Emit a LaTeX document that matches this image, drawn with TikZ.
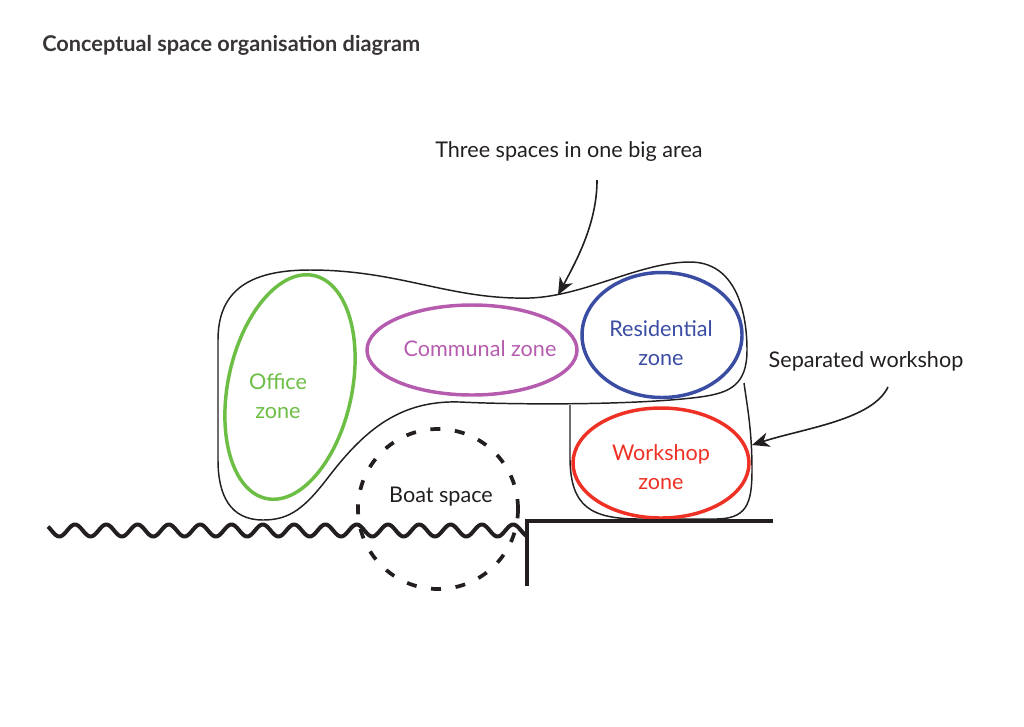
\documentclass[tikz,border=0pt]{standalone}
\usepackage{fontspec}
\setmainfont{Lato}
\usetikzlibrary{shapes.geometric,arrows.meta}
\definecolor{ink}{HTML}{231F20}
\definecolor{officeg}{HTML}{6CBE45}
\definecolor{communalm}{HTML}{B65CAF}
\definecolor{residb}{HTML}{3B4DA3}
\definecolor{workr}{HTML}{EE3124}
\begin{document}
\begin{tikzpicture}[x=0.75pt,y=-0.75pt,
  zone/.style={ellipse, draw, line width=2.6pt, inner sep=0pt},
  lbl/.style={font=\fontsize{16.2}{21.5}\selectfont, text=ink, inner sep=0pt, align=center},
  outline/.style={draw=ink, line width=1.1pt},
  callout/.style={draw=ink, line width=1.2pt, -{Stealth[length=13pt,width=11pt,inset=4pt]}},
  thick ink/.style={draw=ink, line width=3pt}
]
\useasboundingbox (0,0) rectangle (1024,726);

% title
\node[anchor=west, inner sep=0pt, font=\fontsize{16.3}{19}\selectfont\bfseries, text=ink!90] (title) at (42,45) {Conceptual space organisation diagram};

% big area outline
\draw[outline] (310,270) .. controls (400,270) and (450,300) .. (530,298)
  .. controls (585,296) and (640,262) .. (690,262)
  .. controls (735,262) and (747,310) .. (747,350)
  .. controls (747,385) and (730,393) .. (700,397)
  .. controls (640,405) and (520,405) .. (460,402)
  .. controls (400,400) and (365,430) .. (330,475)
  .. controls (305,508) and (290,520) .. (263,520)
  .. controls (230,520) and (218,495) .. (218,460)
  -- (218,340) .. controls (218,290) and (250,270) .. cycle;

% workshop outline
\coordinate (wsA) at (570,405);
\coordinate (wsB) at (744,383);
\draw[outline] (wsA) -- (570,460) .. controls (571,506) and (590,519) .. (640,519)
  -- (715,519) .. controls (746,519) and (752,505) .. (752,470)
  .. controls (752,430) and (747,405) .. (wsB);

% zones
\node[zone, draw=officeg, minimum width=0.75pt*124, minimum height=0.75pt*228, rotate=-12] (office) at (290,387) {};
\node[zone, draw=communalm, minimum width=0.75pt*210, minimum height=0.75pt*90] (communal) at (472,350) {};
\node[zone, draw=residb, minimum width=0.75pt*160, minimum height=0.75pt*125] (resid) at (662,335) {};
\node[zone, draw=workr, minimum width=0.75pt*176, minimum height=0.75pt*110] (work) at (661,463) {};

\node[lbl, text=officeg] (officet) at (278,396) {Office\\zone};
\node[lbl, text=communalm] (communalt) at (480,349) {Communal zone};
\node[lbl, text=residb] (residt) at (661,343) {Residential\\zone};
\node[lbl, text=workr] (workt) at (661,467) {Workshop\\zone};

% boat space
\node[circle, draw=ink, line width=2.8pt, dash pattern=on 7.5pt off 11pt, minimum size=0.75pt*160, inner sep=0pt] (boat) at (438,509) {};
\node[lbl] (boatt) at (441,497) {Boat space};

% water
\draw[thick ink, line join=round] plot[domain=0:479, samples=300] ({48+\x}, {530.5 - 6*cos(((\x-27)/31.3)*360)});

% quay
\coordinate (q1) at (527,586);
\coordinate (q2) at (527,521);
\coordinate (q3) at (773,521);
\draw[thick ink, line width=3pt] (q1) -- (q2) -- (q3);

% callouts
\node[lbl] (three) at (569,152) {Three spaces in one big area};
\coordinate (threeS) at (597,180);
\coordinate (threeE) at (558,295);
\draw[callout] (threeS) .. controls (597,222) and (578,258) .. (threeE);

\node[lbl] (sep) at (866,361) {Separated workshop};
\coordinate (sepS) at (888,387);
\coordinate (sepE) at (752,445);
\draw[callout] (sepS) .. controls (872,420) and (805,428) .. (sepE);
\end{tikzpicture}
\end{document}
